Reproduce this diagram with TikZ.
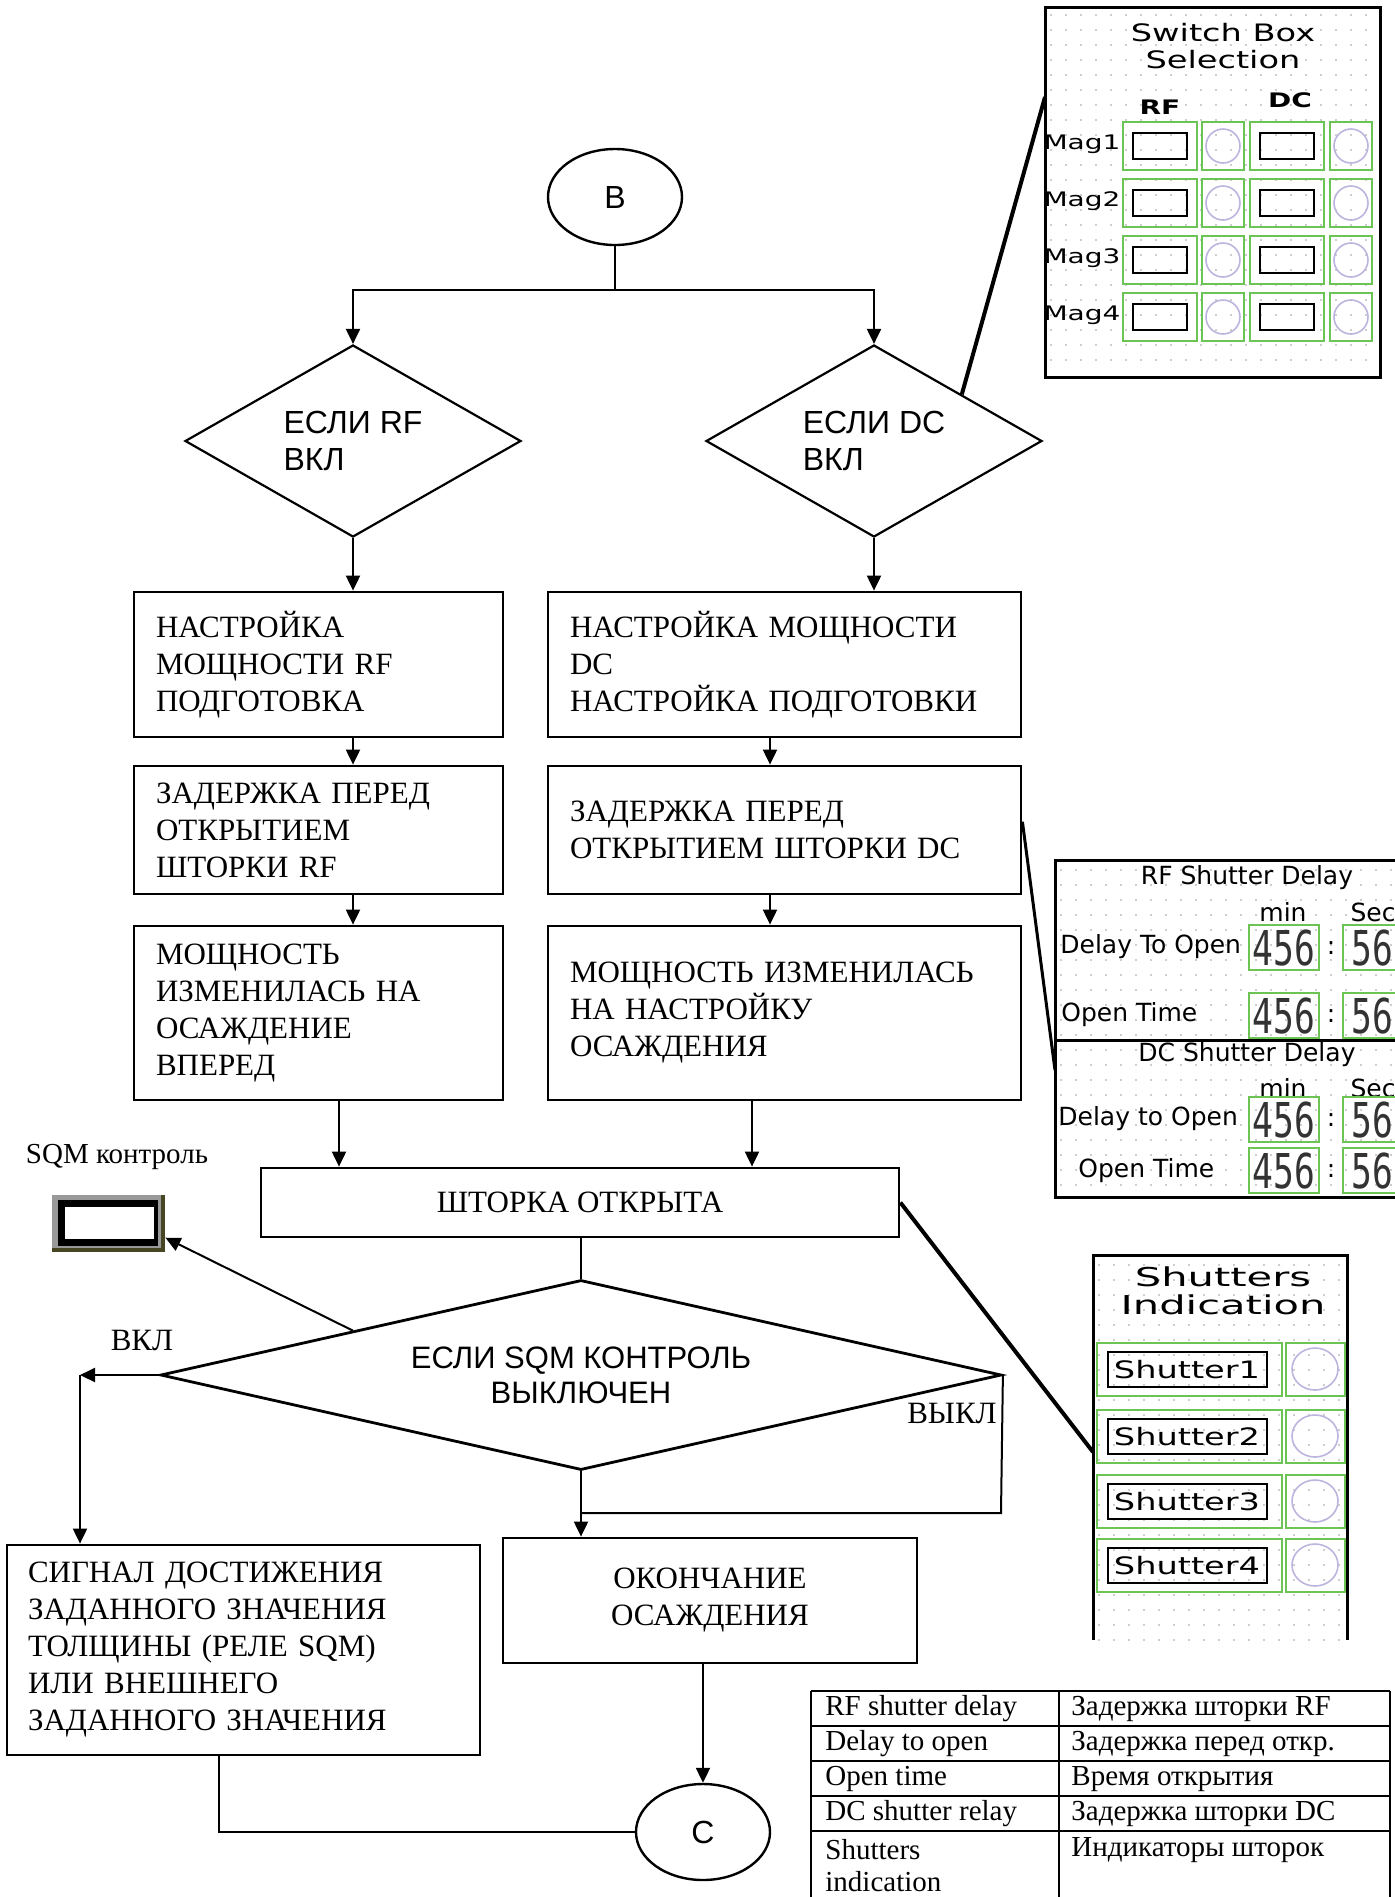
\documentclass[tikz,border=0pt]{standalone}
\usepackage{fontspec}
\setmainfont{Liberation Serif}
\newfontfamily\arialf{Liberation Sans}
\newfontfamily\guif{DejaVu Sans}
\newfontfamily\guiw[FakeStretch=1.4]{DejaVu Sans}
\newfontfamily\guix[FakeStretch=1.6]{DejaVu Sans}
\newfontfamily\segf[FakeStretch=0.72]{DejaVu Sans Mono}
\usetikzlibrary{shapes.geometric,arrows.meta}
\definecolor{guigreen}{RGB}{108,196,84}
\definecolor{guiring}{RGB}{190,180,222}
\definecolor{guidot}{RGB}{205,205,205}
\definecolor{sqmolive}{RGB}{70,70,35}
\begin{document}
\begin{tikzpicture}[x=0.5pt,y=-0.5pt,
  arr/.style={-{Triangle[length=7.5pt,width=7pt]},line width=1pt},
  link/.style={line width=1pt},
  proc/.style={draw,rectangle,line width=1.4pt,align=left,inner xsep=11pt,inner ysep=0pt,font=\fontsize{15.5}{18.5}\selectfont},
  cond/.style={draw,diamond,line width=1.1pt,inner sep=0pt,font=\arialf\fontsize{16}{18.5}\selectfont},
  term/.style={draw,ellipse,line width=1.2pt,minimum width=67pt,minimum height=48pt,font=\arialf\fontsize{16}{18}\selectfont},
  lbl/.style={inner sep=0pt,font=\fontsize{15.5}{18}\selectfont},
  lead/.style={line width=2pt},
  dotrow/.style={guidot,line width=1pt,dash pattern=on 1pt off 6.5pt},
  cell/.style={draw=guigreen,line width=1.4pt},
  ring/.style={draw=guiring,line width=0.8pt},
  guitxt/.style={inner sep=0pt,font=\guif\fontsize{12.5}{14}\selectfont},
  seg/.style={inner sep=0pt,text=black!80,font=\segf\fontsize{24}{24}\selectfont},
  tabtxt/.style={inner sep=0pt,anchor=west,font=\fontsize{14.5}{17}\selectfont},
  tabline/.style={line width=0.8pt}]
\useasboundingbox (0,0) rectangle (1395,1897);
\fill[white] (0,0) rectangle (1395,1897);

\node[term] (b) at (615,197) {B};
\coordinate (split) at (615,290);
\node[cond,aspect=1.75,minimum width=168pt,minimum height=96pt,align=left] (rf) at (353,441) {ЕСЛИ RF\\ВКЛ};
\node[cond,aspect=1.75,minimum width=168pt,minimum height=96pt,align=left] (dc) at (874,441) {ЕСЛИ DC\\ВКЛ};
\draw[link] (b) -- (split);
\draw[arr] (split) -| (rf.north);
\draw[arr] (split) -| (dc.north);

\node[proc,text width=162.5pt,minimum height=72.5pt] (rf1) at (318.5,664.5) {НАСТРОЙКА\\МОЩНОСТИ RF\\ПОДГОТОВКА};
\node[proc,text width=162.5pt,minimum height=64pt] (rf2) at (318.5,830) {ЗАДЕРЖКА ПЕРЕД\\ОТКРЫТИЕМ\\ШТОРКИ RF};
\node[proc,text width=162.5pt,minimum height=87pt] (rf3) at (318.5,1013) {МОЩНОСТЬ\\ИЗМЕНИЛАСЬ НА\\ОСАЖДЕНИЕ\\ВПЕРЕД};
\node[proc,text width=214.5pt,minimum height=72.5pt] (dc1) at (784.5,664.5) {НАСТРОЙКА МОЩНОСТИ\\DC\\НАСТРОЙКА ПОДГОТОВКИ};
\node[proc,text width=214.5pt,minimum height=64pt] (dc2) at (784.5,830) {ЗАДЕРЖКА ПЕРЕД\\ОТКРЫТИЕМ ШТОРКИ DC};
\node[proc,text width=214.5pt,minimum height=87pt] (dc3) at (784.5,1013) {МОЩНОСТЬ ИЗМЕНИЛАСЬ\\НА НАСТРОЙКУ\\ОСАЖДЕНИЯ};
\draw[arr] (rf.south) -- (rf.south |- rf1.north);
\draw[arr] (dc.south) -- (dc.south |- dc1.north);
\draw[arr] (rf1.south -| rf.south) -- (rf2.north -| rf.south);
\draw[arr] (rf2.south -| rf.south) -- (rf3.north -| rf.south);
\draw[arr] ([xshift=-7.25pt]dc1.south) -- ([xshift=-7.25pt]dc2.north);
\draw[arr] ([xshift=-7.25pt]dc2.south) -- ([xshift=-7.25pt]dc3.north);

\node[proc,align=center,minimum width=319pt,minimum height=34.5pt] (open) at (580,1202.5) {ШТОРКА ОТКРЫТА};
\draw[arr] ([xshift=10.25pt]rf3.south) -- ([xshift=10.25pt]rf3.south |- open.north);
\draw[arr] ([xshift=-16.25pt]dc3.south) -- ([xshift=-16.25pt]dc3.south |- open.north);

\node[cond,aspect=4.4,minimum width=420.5pt,minimum height=95pt,line width=1.4pt,align=center,font=\arialf\fontsize{15.5}{17.5}\selectfont] (ifsqm) at (581,1375) {ЕСЛИ SQM КОНТРОЛЬ\\ВЫКЛЮЧЕН};
\draw[link] (open.south -| ifsqm.north) -- (ifsqm.north);

\node[lbl,font=\fontsize{14.5}{17}\selectfont] (sqml) at (117,1157) {SQM контроль};
\node[rectangle,fill=sqmolive,minimum width=56.5pt,minimum height=28.5pt,inner sep=0pt] (sqm) at (108.5,1223.5) {};
\fill[black!40] (52,1195) rectangle (161,1248);
\fill[black] (58,1200) rectangle (158,1246);
\fill[white] (65,1207) rectangle (154,1239);
\draw[arr] (ifsqm.169) -- (sqm.-14);

\coordinate (onl) at (80,1375);
\coordinate (offr) at (1001,1513);
\node[lbl] (on) at (142,1340) {ВКЛ};
\node[lbl] (off) at (952,1413) {ВЫКЛ};
\node[proc,text width=215.5pt,inner xsep=10.5pt,minimum height=105pt] (sig) at (243.5,1650) {СИГНАЛ ДОСТИЖЕНИЯ\\ЗАДАННОГО ЗНАЧЕНИЯ\\ТОЛЩИНЫ (РЕЛЕ SQM)\\ИЛИ ВНЕШНЕГО\\ЗАДАННОГО ЗНАЧЕНИЯ};
\node[proc,align=center,minimum width=207pt,minimum height=62.5pt] (fin) at (710,1600.5) {ОКОНЧАНИЕ\\ОСАЖДЕНИЯ};
\node[term] (c) at (703,1832) {C};
\draw[arr] (ifsqm.west) -- (onl);
\draw[arr] (onl) -- (onl |- sig.north);
\draw[link] (ifsqm.east) -- (offr) -- (offr -| ifsqm.south);
\draw[arr] (ifsqm.south) -- (ifsqm.south |- fin.north);
\draw[arr] (c.north |- fin.south) -- (c.north);
\draw[link] ([xshift=-12.25pt]sig.south) |- (c.west);

\fill[white] (1045,7) rectangle (1380,377);
\foreach \gy in {15,30,...,370}
  \draw[dotrow] (1050,\gy) -- (1378,\gy);
\draw[line width=1.5pt] (1045,7) rectangle (1380,377);
\node[guitxt,font=\guiw\fontsize{12}{14}\selectfont] (sbt) at (1223,33) {Switch Box};
\node[guitxt,font=\guiw\fontsize{12}{14}\selectfont] (sbs) at (1223,60) {Selection};
\node[guitxt,font=\guiw\bfseries\fontsize{10}{12}\selectfont] (sbrf) at (1160,107) {RF};
\node[guitxt,font=\guiw\bfseries\fontsize{10}{12}\selectfont] (sbdc) at (1290,100) {DC};
\foreach \ty/\m in {122/1,179/2,236/3,293/4}{
  \draw[cell] (1123,\ty) rectangle (1197,\ty+48);
  \draw[cell] (1202,\ty) rectangle (1244,\ty+48);
  \draw[cell] (1250,\ty) rectangle (1324,\ty+48);
  \draw[cell] (1330,\ty) rectangle (1372,\ty+48);
  \draw[line width=1.3pt] (1133,\ty+11) rectangle (1187,\ty+37);
  \draw[line width=1.3pt] (1260,\ty+11) rectangle (1314,\ty+37);
  \draw[ring] (1223,\ty+24) circle[radius=8.5pt];
  \draw[ring] (1351,\ty+24) circle[radius=8.5pt];
  \node[guitxt,font=\guiw\fontsize{10}{12}\selectfont] at (1082,\ty+22) {Mag\m};
}
\coordinate (sbin) at (1045,97);
\draw[lead] (dc.28) -- (sbin);

\fill[white] (1055,860) rectangle (1400,1197);
\foreach \gy in {870,885,...,1195}
  \draw[dotrow] (1060,\gy) -- (1400,\gy);
\draw[line width=1.5pt] (1400,860) -- (1055,860) -- (1055,1197) -- (1400,1197);
\draw[line width=1.5pt] (1055,1040) -- (1400,1040);
\foreach \ttl/\tt/\ms/\dlbl/\dx/\dy/\ox/\oy/\ba/\bb in {RF Shutter Delay/878/912/Delay To Open/1060/947/1061/1015/925/993,DC Shutter Delay/1055/1088/Delay to Open/1058/1119/1078/1171/1097/1148}{
  \node[guitxt] at (1247,\tt) {\ttl};
  \node[guitxt] at (1283,\ms) {min};
  \node[guitxt] at (1373,\ms) {Sec};
  \node[guitxt,anchor=west] at (\dx,\dy) {\dlbl};
  \node[guitxt,anchor=west] at (\ox,\oy) {Open Time};
  \foreach \ry in {\ba,\bb}{
    \draw[cell] (1249,\ry) rectangle (1319,\ry+45);
    \draw[cell] (1343,\ry) rectangle (1402,\ry+45);
    \node[seg] at (1284,\ry+23) {456};
    \node[seg] at (1372,\ry+23) {56};
    \node[guitxt] at (1331,\ry+23) {:};
  }
}
\coordinate (sdin) at (1055,1070);
\draw[line width=1.5pt] (dc2.2) -- (sdin);

\fill[white] (1093,1255) rectangle (1347,1640);
\foreach \gy in {1265,1280,...,1640}
  \draw[dotrow] (1098,\gy) -- (1345,\gy);
\draw[line width=1.5pt] (1093,1640) -- (1093,1255) -- (1347,1255) -- (1347,1640);
\node[guitxt,font=\guix\fontsize{13}{15}\selectfont] (sht) at (1223,1277) {Shutters};
\node[guitxt,font=\guix\fontsize{13}{15}\selectfont] (shi) at (1223,1305) {Indication};
\foreach \ty/\s in {1343/1,1410/2,1475/3,1539/4}{
  \draw[cell] (1097,\ty) rectangle (1282,\ty+53);
  \draw[cell] (1286,\ty) rectangle (1345,\ty+53);
  \draw[line width=1.3pt] (1108,\ty+9) rectangle (1267,\ty+44);
  \draw[ring] (1315,\ty+26) ellipse[x radius=11.5pt,y radius=10.5pt];
  \node[guitxt,font=\guiw\fontsize{12}{14}\selectfont] at (1187,\ty+27) {Shutter\s};
}
\coordinate (shin) at (1093,1452);
\draw[lead] (open.east) -- (shin);

\foreach \ty in {1691,1726,1761,1796,1831}
  \draw[tabline] (811,\ty) -- (1390,\ty);
\draw[tabline] (811,1691) -- (811,1897);
\draw[tabline] (1059,1691) -- (1059,1897);
\draw[tabline] (1390,1691) -- (1390,1897);
\foreach \ty/\en/\ru in {1709/RF shutter delay/Задержка шторки RF,1744/Delay to open/Задержка перед откр.,1779/Open time/Время открытия,1814/DC shutter relay/Задержка шторки DC}{
  \node[tabtxt] at (825,\ty) {\en};
  \node[tabtxt] at (1071,\ty) {\ru};
}
\node[tabtxt] at (825,1850) {Shutters};
\node[tabtxt] at (825,1882) {indication};
\node[tabtxt] at (1071,1850) {Индикаторы шторок};
\end{tikzpicture}
\end{document}
